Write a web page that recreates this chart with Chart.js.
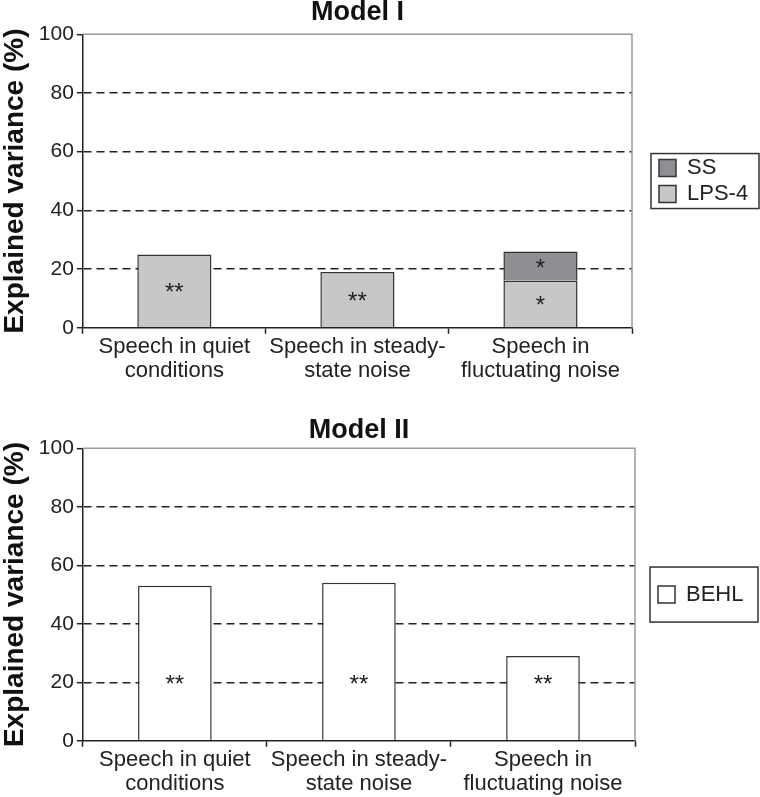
<!DOCTYPE html>
<html>
<head>
<meta charset="utf-8">
<script src="https://cdn.jsdelivr.net/npm/chart.js@4.4.1/dist/chart.umd.min.js"></script>
<style>
  body { margin: 0; background: #fff; }
  .box { position: absolute; left: 0; width: 760px; }
  #top { top: 0; height: 384px; }
  #bottom { top: 384px; height: 413px; }
</style>
</head>
<body>
<div class="box" id="top"><canvas id="chart__model1"></canvas></div>
<div class="box" id="bottom"><canvas id="chart__model2"></canvas></div>
<script>
const categories = [
  ["Speech in quiet", "conditions"],
  ["Speech in steady-", "state noise"],
  ["Speech in", "fluctuating noise"],
];
const yTicks = [0, 20, 40, 60, 80, 100];

// Model I (stacked)
const lps4 = [25, 19, 16];
const ss = [0, 0, 10];
const lps4Stars = ["**", "**", "*"];
const ssStars = ["", "", "*"];

// Model II
const behl = [53, 54, 29];
const behlStars = ["**", "**", "**"];

const FONT = "'Liberation Sans', Arial, sans-serif";
Chart.defaults.font.family = FONT;
Chart.defaults.color = "#222";
Chart.defaults.animation = false;

// gray frame on top and right of the plot + asterisks + legend box
const extras = {
  id: "extras",
  afterLayout(chart, args, opts) {
    // legend sits a bit away from the plot, and may use the rest of the width
    const lg = chart.legend;
    lg.left = chart.chartArea.right + opts.gap;
    lg.right = chart.width;
    lg.width = lg.right - lg.left;
  },
  beforeDatasetsDraw(chart) {
    const { ctx, chartArea: a } = chart;
    ctx.save();
    ctx.strokeStyle = "#9a9a9a";
    ctx.lineWidth = 1.5;
    ctx.beginPath();
    ctx.moveTo(a.left, a.top);
    ctx.lineTo(a.right, a.top);
    ctx.lineTo(a.right, a.bottom);
    ctx.stroke();
    ctx.restore();
  },
  afterDatasetsDraw(chart, args, opts) {
    const ctx = chart.ctx;
    ctx.save();
    ctx.font = "24px " + FONT;
    ctx.fillStyle = "#222";
    ctx.textAlign = "center";
    ctx.textBaseline = "alphabetic";
    chart.data.datasets.forEach((ds, i) => {
      const meta = chart.getDatasetMeta(i);
      meta.data.forEach((bar, j) => {
        const s = ds.stars && ds.stars[j];
        if (!s) return;
        let y = (bar.y + bar.base) / 2;
        if (opts.level != null) y = chart.scales.y.getPixelForValue(opts.level);
        ctx.fillText(s, bar.x, y + 9.5);
      });
    });
    ctx.restore();
  },
  afterDraw(chart) {
    const hb = chart.legend.legendHitBoxes;
    if (!hb.length) return;
    const ctx = chart.ctx;
    const left = Math.min(...hb.map((h) => h.left)) - 8;
    const top = Math.min(...hb.map((h) => h.top));
    const bottom = Math.max(...hb.map((h) => h.top + h.height));
    const cy = (top + bottom) / 2;
    ctx.save();
    ctx.strokeStyle = "#333";
    ctx.lineWidth = 1.5;
    ctx.strokeRect(left, cy - 27.5, 108, 55);
    ctx.restore();
  },
};

function baseOptions(title, titlePad, rightPad, level, gap) {
  return {
    responsive: true,
    maintainAspectRatio: false,
    layout: { padding: { left: 0, right: rightPad, top: 0, bottom: 0 } },
    plugins: {
      extras: { level: level, gap: gap },
      title: {
        display: true,
        text: title,
        fullSize: false,
        color: "#111",
        font: { size: 27, weight: "bold", lineHeight: 0.9 },
        padding: titlePad,
      },
      legend: {
        position: "right",
        fullSize: false,
        reverse: true,
        maxWidth: 20,
        labels: {
          boxWidth: 17,
          boxHeight: 17,
          padding: 4,
          color: "#222",
          font: { size: 22 },
        },
      },
      tooltip: { enabled: false },
    },
    scales: {
      x: {
        stacked: true,
        offset: true,
        grid: { offset: true, drawOnChartArea: false, tickColor: "#222", tickLength: 6, tickWidth: 1.5 },
        border: { color: "#222", width: 1.5 },
        ticks: { color: "#222", padding: 2, maxRotation: 0, autoSkip: false, font: { size: 22, lineHeight: 1.05 } },
      },
      y: {
        stacked: true,
        min: 0,
        max: 100,
        afterBuildTicks: (scale) => { scale.ticks = yTicks.map((v) => ({ value: v })); },
        grid: {
          color: (c) => (c.tick && c.tick.value > 0 && c.tick.value < 100 ? "#222" : "transparent"),
          lineWidth: 1.4,
          tickColor: "#222",
          tickLength: 6,
          tickWidth: 1.5,
        },
        border: { color: "#222", width: 1.5, dash: [8, 5] },
        ticks: { color: "#222", padding: 3, font: { size: 21 } },
        title: {
          display: true,
          text: "Explained variance (%)",
          color: "#111",
          font: { size: 28, weight: "bold", lineHeight: 1.1 },
          padding: { top: 0, bottom: 5 },
        },
      },
    },
  };
}

new Chart(document.getElementById("chart__model1"), {
  type: "bar",
  data: {
    labels: categories,
    datasets: [
      {
        label: "LPS-4",
        data: lps4,
        stars: lps4Stars,
        backgroundColor: "#c6c7c9",
        borderColor: "#333",
        borderWidth: 1.5,
        categoryPercentage: 1,
        barPercentage: 0.405,
      },
      {
        label: "SS",
        data: ss,
        stars: ssStars,
        backgroundColor: "#8e8f92",
        borderColor: "#333",
        borderWidth: 1.5,
        categoryPercentage: 1,
        barPercentage: 0.405,
      },
    ],
  },
  options: baseOptions("Model I", { top: 0, bottom: 10 }, 108, null, 23),
  plugins: [extras],
});

new Chart(document.getElementById("chart__model2"), {
  type: "bar",
  data: {
    labels: categories,
    datasets: [
      {
        label: "BEHL",
        data: behl,
        stars: behlStars,
        backgroundColor: "#ffffff",
        borderColor: "#333",
        borderWidth: 1.5,
        categoryPercentage: 1,
        barPercentage: 0.4,
      },
    ],
  },
  options: baseOptions("Model II", { top: 34, bottom: 6 }, 105, 20, 19),
  plugins: [extras],
});
</script>
</body>
</html>
